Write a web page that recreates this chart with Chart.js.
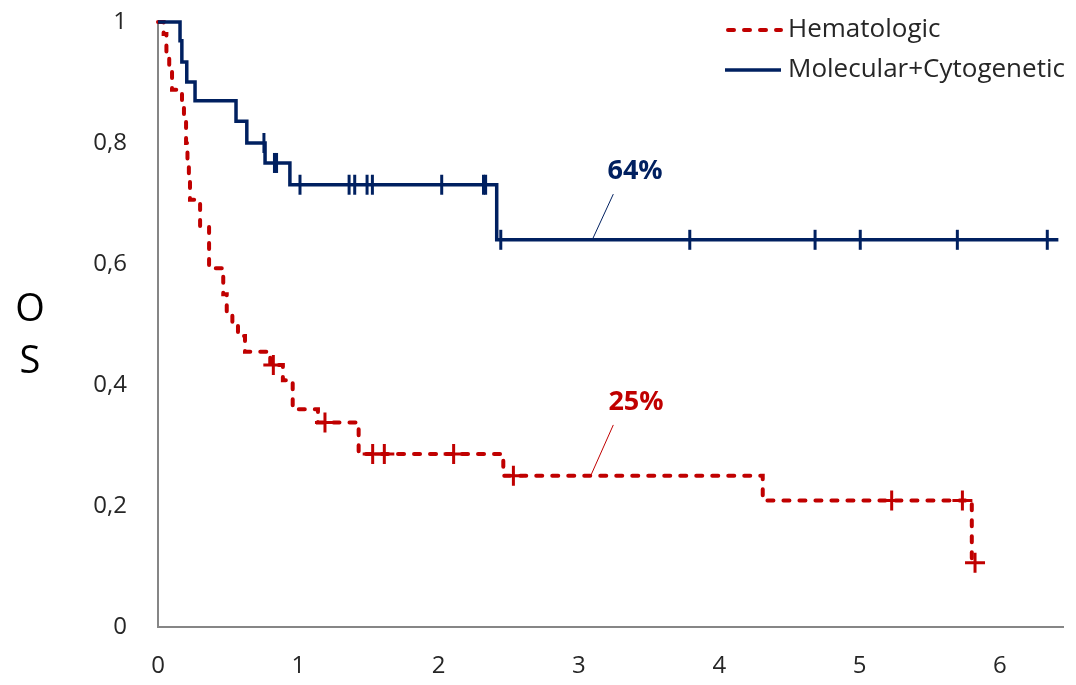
<!DOCTYPE html>
<html>
<head>
<meta charset="utf-8">
<title>Overall survival</title>
<script src="https://cdn.jsdelivr.net/npm/chart.js@4.4.1/dist/chart.umd.min.js"></script>
<style>
  html, body { margin: 0; padding: 0; background: #ffffff; }
  #wrap { width: 1076px; height: 685px; position: relative; }
</style>
</head>
<body>
<div id="wrap"><canvas id="os"></canvas></div>
<script>
// ---- Data -------------------------------------------------------------
const seriesNames = ['Hematologic', 'Molecular+Cytogenetic'];

// Kaplan–Meier steps (time in years, survival probability)
const hemTime = [0, 0.04, 0.06, 0.08, 0.10, 0.171, 0.185, 0.20, 0.21, 0.22, 0.228, 0.30, 0.364,
                 0.465, 0.49, 0.53, 0.57, 0.62, 0.80, 0.89, 0.96, 1.14, 1.43, 2.461, 4.31, 5.80, 5.823];
const hemSurv = [1, 0.98, 0.95, 0.92, 0.888, 0.87, 0.835, 0.80, 0.77, 0.74, 0.706, 0.662, 0.593,
                 0.55, 0.52, 0.50, 0.481, 0.455, 0.433, 0.408, 0.36, 0.338, 0.286, 0.25, 0.209, 0.106, 0.106];
const hemCensorTime = [0.822, 1.19, 1.53, 1.613, 2.107, 2.533, 5.229, 5.733, 5.823];
const hemCensorSurv = [0.433, 0.338, 0.286, 0.286, 0.286, 0.25, 0.209, 0.209, 0.106];

const molTime = [0, 0.157, 0.17, 0.205, 0.264, 0.556, 0.633, 0.763, 0.94, 2.414, 6.417];
const molSurv = [1, 0.969, 0.934, 0.901, 0.870, 0.836, 0.80, 0.767, 0.731, 0.64, 0.64];
const molCensorTime = [0.755, 0.83, 0.845, 1.012, 1.362, 1.402, 1.49, 1.528, 2.022, 2.32, 2.335,
                       2.443, 3.79, 4.683, 5.005, 5.697, 6.338];
const molCensorSurv = [0.80, 0.767, 0.767, 0.731, 0.731, 0.731, 0.731, 0.731, 0.731, 0.731, 0.731,
                       0.64, 0.64, 0.64, 0.64, 0.64, 0.64];

const xTicks = [0, 1, 2, 3, 4, 5, 6];
const xLabels = ['0', '1', '2', '3', '4', '5', '6'];
const yTicks = [0, 0.2, 0.4, 0.6, 0.8, 1];
const yLabels = ['0', '0,2', '0,4', '0,6', '0,8', '1'];
const axisTitle = ['O', 'S'];

// Plateau call-outs: text and the survival value they point at
const plateauText = ['64%', '25%'];
const plateauValue = [0.64, 0.25];

// ---- Styling ----------------------------------------------------------
const RED = '#c00000';
const NAVY = '#002060';
const AXIS = '#868686';
const TEXT = '#262626';
const FONT = "'Open Sans', 'DejaVu Sans', sans-serif";

const pairs = (xs, ys) => xs.map((x, i) => ({ x: x, y: ys[i] }));

// where each call-out sits (label centre, leader start, leader end time)
const calloutLayout = [
  { color: NAVY, label: [3.40, 0.753], from: [3.245, 0.7155], toX: 3.095 },
  { color: RED,  label: [3.407, 0.372], from: [3.245, 0.334], toX: 3.084 }
];

const calloutPlugin = {
  id: 'callouts',
  afterDatasetsDraw(chart) {
    const { ctx, scales: { x, y } } = chart;
    ctx.save();
    plateauText.forEach((txt, i) => {
      const c = calloutLayout[i];
      ctx.strokeStyle = c.color;
      ctx.lineWidth = 1;
      ctx.beginPath();
      ctx.moveTo(x.getPixelForValue(c.from[0]), y.getPixelForValue(c.from[1]));
      ctx.lineTo(x.getPixelForValue(c.toX), y.getPixelForValue(plateauValue[i]));
      ctx.stroke();
      ctx.fillStyle = c.color;
      ctx.font = "bold 27px " + FONT;
      ctx.textAlign = 'center';
      ctx.textBaseline = 'middle';
      ctx.fillText(txt, x.getPixelForValue(c.label[0]), y.getPixelForValue(c.label[1]));
    });
    ctx.restore();
  }
};

const legendPlugin = {
  id: 'stepLegend',
  afterDraw(chart) {
    const { ctx, chartArea } = chart;
    const x0 = chartArea.right - 338;
    const rows = [chart.data.datasets[0], chart.data.datasets[1]];
    ctx.save();
    rows.forEach((ds, i) => {
      const yy = chartArea.top + 8 + i * 40;
      ctx.strokeStyle = ds.borderColor;
      ctx.lineWidth = ds.borderWidth;
      ctx.lineCap = ds.borderCapStyle || 'butt';
      ctx.setLineDash(ds.borderDash || []);
      ctx.beginPath();
      ctx.moveTo(x0 + (ds.borderDash ? 3 : 0), yy);
      ctx.lineTo(x0 + 56, yy);
      ctx.stroke();
      ctx.setLineDash([]);
      ctx.fillStyle = TEXT;
      ctx.font = "26px " + FONT;
      ctx.textAlign = 'left';
      ctx.textBaseline = 'middle';
      ctx.fillText(ds.label, x0 + 63, yy);
    });
    ctx.restore();
  }
};

const titlePlugin = {
  id: 'stackedTitle',
  afterDraw(chart) {
    const { ctx, chartArea } = chart;
    const cx = chartArea.left - 128;
    const cy = (chartArea.top + chartArea.bottom) / 2;
    ctx.save();
    ctx.fillStyle = '#000000';
    ctx.font = "38px " + FONT;
    ctx.textAlign = 'center';
    ctx.textBaseline = 'middle';
    axisTitle.forEach((ch, i) => ctx.fillText(ch, cx, cy - 14 + i * 52));
    ctx.restore();
  }
};

new Chart(document.getElementById('os'), {
  type: 'line',
  data: {
    datasets: [
      {
        label: seriesNames[0],
        data: pairs(hemTime, hemSurv),
        stepped: 'before',
        borderColor: RED,
        borderWidth: 4,
        borderDash: [6, 10],
        borderCapStyle: 'round',
        pointRadius: 0,
        fill: false,
        clip: false,
        order: 2
      },
      {
        label: seriesNames[1],
        data: pairs(molTime, molSurv),
        stepped: 'before',
        borderColor: NAVY,
        borderWidth: 3.5,
        pointRadius: 0,
        fill: false,
        clip: false,
        order: 1
      },
      {
        label: seriesNames[0] + ' censored',
        data: pairs(hemCensorTime, hemCensorSurv),
        showLine: false,
        pointStyle: 'cross',
        pointRadius: 10,
        pointBorderWidth: 3,
        pointBorderColor: RED,
        clip: false,
        order: 0
      },
      {
        label: seriesNames[1] + ' censored',
        data: pairs(molCensorTime, molCensorSurv),
        showLine: false,
        pointStyle: 'line',
        pointRotation: 90,
        pointRadius: 10,
        pointBorderWidth: 3,
        pointBorderColor: NAVY,
        clip: false,
        order: 0
      }
    ]
  },
  options: {
    responsive: true,
    maintainAspectRatio: false,
    animation: false,
    events: [],
    layout: { padding: { top: 22, right: 11, left: 0, bottom: 0 } },
    plugins: {
      legend: { display: false },
      tooltip: { enabled: false }
    },
    scales: {
      x: {
        type: 'linear',
        min: 0,
        max: 6.45,
        afterBuildTicks(scale) { scale.ticks = xTicks.map(v => ({ value: v })); },
        afterFit(scale) { scale.height = 58; scale.paddingLeft = 0; scale.paddingRight = 0; },
        grid: { display: false, drawTicks: false },
        border: { display: true, color: AXIS, width: 2 },
        ticks: {
          color: TEXT,
          font: { family: FONT, size: 24 },
          padding: 25,
          maxRotation: 0,
          callback: (v, i) => xLabels[i]
        }
      },
      y: {
        type: 'linear',
        min: 0,
        max: 1,
        afterBuildTicks(scale) { scale.ticks = yTicks.map(v => ({ value: v })); },
        afterFit(scale) { scale.width = 158; scale.paddingTop = 0; scale.paddingBottom = 0; },
        grid: { display: false, drawTicks: false },
        border: { display: true, color: AXIS, width: 2 },
        ticks: {
          color: TEXT,
          font: { family: FONT, size: 24 },
          padding: 31,
          callback: (v, i) => yLabels[i]
        }
      }
    }
  },
  plugins: [calloutPlugin, legendPlugin, titlePlugin]
});
</script>
</body>
</html>
